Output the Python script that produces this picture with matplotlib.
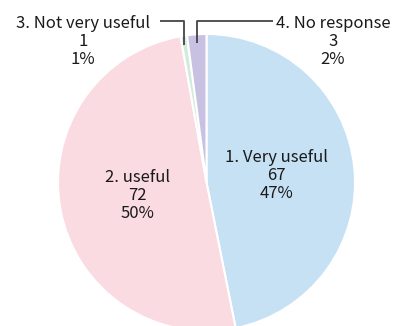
import numpy as np
import matplotlib.pyplot as plt

plt.rcParams['font.family'] = ['Noto Sans CJK JP', 'DejaVu Sans']

labels = ['1. Very useful', '2. useful', '3. Not very useful', '4. No response']
counts = [67, 72, 1, 3]
colors = ['#c6e1f4', '#fadbe1', '#d2ebdc', '#c9c1e2']

W, H = 399, 326
cx, cy, r = 206.5, 326 - 182.5, 148.5

fig = plt.figure(figsize=(W / 100, H / 100), dpi=100)
ax = fig.add_axes([0, 0, 1, 1])

total = sum(counts)
pcts = [round(100 * c / total) for c in counts]

wedges, _ = ax.pie(counts, colors=colors, startangle=90, counterclock=False,
                   center=(cx, cy), radius=r,
                   wedgeprops=dict(edgecolor='white', linewidth=1.5))
ax.set_xlim(0, W)
ax.set_ylim(0, H)
ax.axis('off')

fs = 12
ls = 1.1
# labels inside the two big slices
for i in (0, 1):
    w = wedges[i]
    ang = np.deg2rad((w.theta1 + w.theta2) / 2)
    x = cx + 0.475 * r * np.cos(ang)
    y = cy + 0.475 * r * np.sin(ang)
    ax.text(x, y, '%s\n%d\n%d%%' % (labels[i], counts[i], pcts[i]),
            ha='center', va='center', fontsize=fs, linespacing=ls, color='#1a1a1a')

# leader lines for the two small slices
line_y = H - 21
for i, (tx, ex) in zip((2, 3), ((83, 160), (333, 273))):
    w = wedges[i]
    ang = np.deg2rad((w.theta1 + w.theta2) / 2)
    x0 = cx + r * np.cos(ang)
    y0 = cy + 0.94 * r * np.sin(ang)
    ax.plot([x0, x0, ex], [y0, line_y, line_y], color='#444444', lw=1.3,
            solid_capstyle='butt')
    ax.text(tx, line_y - 20.5, '%s\n%d\n%d%%' % (labels[i], counts[i], pcts[i]),
            ha='center', va='center', fontsize=fs, linespacing=ls, color='#1a1a1a')

fig.savefig('out.png', dpi=100)
